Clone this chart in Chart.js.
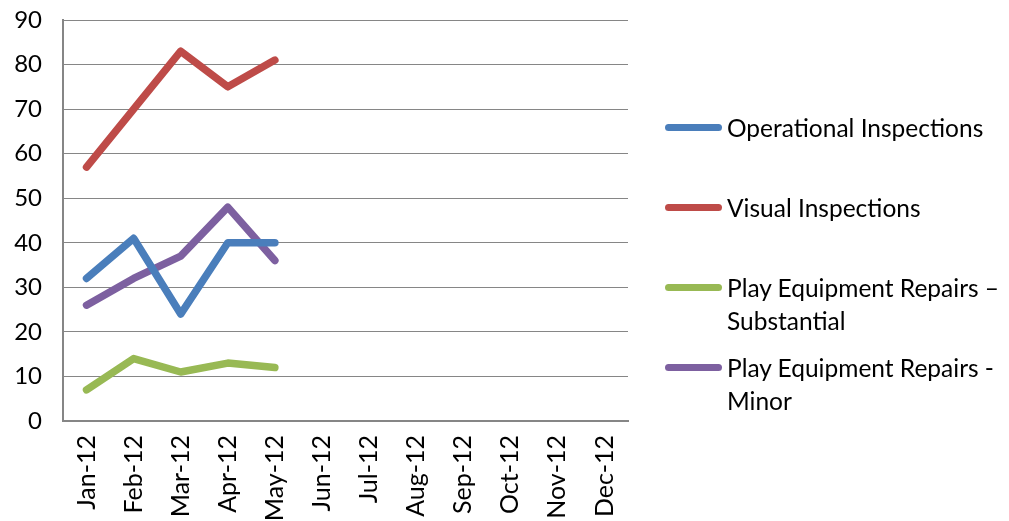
<!DOCTYPE html>
<html>
<head>
<meta charset="utf-8">
<script src="https://cdn.jsdelivr.net/npm/chart.js@4"></script>
<style>
  html, body { margin: 0; padding: 0; background: #fff; }
  #wrap { position: relative; width: 1009px; height: 521px; }
  #legend { position: absolute; left: 665px; top: 0; font-family: Lato, sans-serif; font-size: 24.5px; color: #000; }
  .item { position: absolute; left: 0; white-space: nowrap; line-height: 33px; }
  .swatch { position: absolute; left: 0; top: 13px; width: 57px; height: 7px; border-radius: 4px; }
  .txt { position: absolute; left: 62px; top: 0; }
</style>
</head>
<body>
<div id="wrap">
  <canvas id="myChart" width="1009" height="521"></canvas>
  <div id="legend"></div>
</div>
<script>
var months = ["Jan-12", "Feb-12", "Mar-12", "Apr-12", "May-12", "Jun-12", "Jul-12", "Aug-12", "Sep-12", "Oct-12", "Nov-12", "Dec-12"];
var operational = [32, 41, 24, 40, 40];
var visual = [57, 70, 83, 75, 81];
var repairsSubstantial = [7, 14, 11, 13, 12];
var repairsMinor = [26, 32, 37, 48, 36];
var seriesNames = ["Operational Inspections", "Visual Inspections", "Play Equipment Repairs \u2013\nSubstantial", "Play Equipment Repairs -\nMinor"];
var seriesColors = ['#4A7EBB', '#BE4B48', '#98B954', '#7D60A0'];
var legendTops = [111, 191, 271, 351];

function line(i, data) {
    return {
        label: seriesNames[i],
        data: data,
        borderColor: seriesColors[i],
        backgroundColor: seriesColors[i],
        borderWidth: 7.5,
        borderCapStyle: 'round',
        borderJoinStyle: 'round',
        pointRadius: 0,
        tension: 0
    };
}

var ctx = document.getElementById('myChart').getContext('2d');
var chart = new Chart(ctx, {
    type: 'line',
    data: {
        labels: months,
        datasets: [
            line(0, operational),
            line(1, visual),
            line(2, repairsSubstantial),
            line(3, repairsMinor)
        ]
    },
    options: {
        responsive: false,
        animation: false,
        layout: { padding: { top: 20, right: 381, left: 0, bottom: 0 } },
        plugins: { legend: { display: false }, tooltip: { enabled: false } },
        scales: {
            x: {
                offset: true,
                afterFit: function (s) { s.height = 100; s.paddingLeft = 0; s.paddingRight = 0; },
                grid: { display: false, drawTicks: false },
                border: { color: '#868686', width: 2 },
                ticks: { minRotation: 90, maxRotation: 90, padding: 14, color: '#000', font: { family: 'Lato', size: 25 } }
            },
            y: {
                min: 0,
                max: 90,
                afterFit: function (s) { s.width = 63; s.paddingTop = 0; s.paddingBottom = 0; },
                grid: { color: '#868686', lineWidth: 1, drawTicks: false },
                border: { color: '#868686', width: 2 },
                ticks: { stepSize: 10, padding: 21, color: '#000', font: { family: 'Lato', size: 24 } }
            }
        }
    }
});

// legend drawn as html so the two long names can wrap
var legend = document.getElementById('legend');
seriesNames.forEach(function (name, i) {
    var item = document.createElement('div');
    item.className = 'item';
    item.style.top = legendTops[i] + 'px';
    var sw = document.createElement('div');
    sw.className = 'swatch';
    sw.style.background = seriesColors[i];
    var t = document.createElement('div');
    t.className = 'txt';
    t.innerHTML = name.replace('\n', '<br>');
    item.appendChild(sw);
    item.appendChild(t);
    legend.appendChild(item);
});
</script>
</body>
</html>
